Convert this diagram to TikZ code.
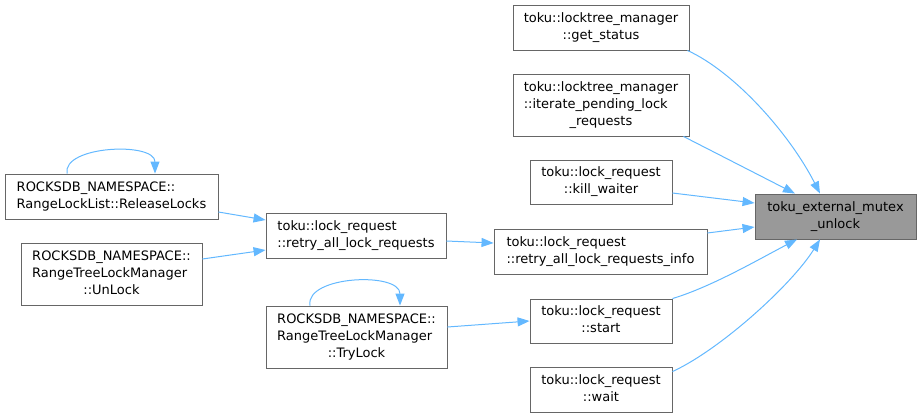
\documentclass[tikz,border=0pt]{standalone}
\usepackage{fontspec}
\setmainfont{DejaVu Sans}
\usetikzlibrary{arrows.meta}
\definecolor{edgec}{HTML}{63B8FF}
\definecolor{boxc}{HTML}{666666}
\definecolor{tgfill}{HTML}{999999}
\newcommand{\dlab}[2]{\begin{tabular}{@{}l@{}}#1\\\multicolumn{1}{@{}c@{}}{#2}\end{tabular}}
\tikzset{
  fn/.style={draw=boxc, fill=white, line width=0.9pt, inner sep=0pt, anchor=center},
  tgt/.style={fn, fill=tgfill},
  call/.style={draw=edgec, line width=1pt, -{Triangle[length=12pt,width=9pt]}},
}
\begin{document}
\begin{tikzpicture}[x=1pt,y=-1pt,font=\fontsize{13}{16.7}\selectfont]
\useasboundingbox (0,0) rectangle (921,418);
\node[fn, minimum width=176pt, minimum height=45pt] (gs) at (601,27.5) {\dlab{toku::locktree\_manager}{::get\_status}};
\node[fn, minimum width=176pt, minimum height=62pt] (it) at (601,105) {\dlab{toku::locktree\_manager\\::iterate\_pending\_lock}{\_requests}};
\node[fn, minimum width=142pt, minimum height=44pt] (kw) at (601,182) {\dlab{toku::lock\_request}{::kill\_waiter}};
\node[tgt, minimum width=161pt, minimum height=45pt] (tg) at (835.5,216.5) {\dlab{toku\_external\_mutex}{\_unlock}};
\node[fn, minimum width=213pt, minimum height=45pt] (ri) at (600.5,251.5) {\dlab{toku::lock\_request}{::retry\_all\_lock\_requests\_info}};
\node[fn, minimum width=142pt, minimum height=44pt] (st) at (601,321) {\dlab{toku::lock\_request}{::start}};
\node[fn, minimum width=142pt, minimum height=45pt] (wt) at (601,390) {\dlab{toku::lock\_request}{::wait}};
\node[fn, minimum width=180pt, minimum height=45pt] (ra) at (356,235.5) {\dlab{toku::lock\_request}{::retry\_all\_lock\_requests}};
\node[fn, minimum width=213pt, minimum height=45pt] (rl) at (111.5,196.5) {\dlab{ROCKSDB\_NAMESPACE::}{RangeLockList::ReleaseLocks}};
\node[fn, minimum width=181pt, minimum height=62pt] (ul) at (111.5,274) {\dlab{ROCKSDB\_NAMESPACE::\\RangeTreeLockManager}{::UnLock}};
\node[fn, minimum width=181pt, minimum height=62pt] (tl) at (356.5,337) {\dlab{ROCKSDB\_NAMESPACE::\\RangeTreeLockManager}{::TryLock}};

\draw[call] ([xshift=-2pt]gs.south east) .. controls +(48,22) and +(-30,-59) .. ([xshift=-15.5pt]tg.north);
\draw[call] ([xshift=-6pt]it.south east) -- ([xshift=-40.5pt]tg.north);
\draw[call] ([yshift=-11pt]kw.east) -- ([yshift=13.5pt]tg.west);
\draw[call] ([yshift=18.5pt]ri.east) -- ([yshift=-10.5pt]tg.west);
\draw[call] (st.north east) .. controls +(40,-12) and +(-35,18) .. ([xshift=-38.5pt]tg.south);
\draw[call] ([yshift=-4.5pt]wt.north east) .. controls +(48,-22) and +(-28,45) .. ([xshift=-15.5pt]tg.south);
\draw[call] ([yshift=-5.5pt]ra.east) -- ([yshift=8.5pt]ri.west);
\draw[call] ([yshift=-15.5pt]rl.east) -- ([yshift=15.5pt]ra.west);
\draw[call] ([yshift=15pt]ul.east) -- ([yshift=-14.5pt]ra.west);
\draw[call] ([yshift=10pt]tl.east) -- (st.west);
\draw[call] ([xshift=-44.5pt]rl.north) .. controls +(-5,-28) and +(0,-32) .. ([xshift=43.5pt]rl.north);
\draw[call] ([xshift=-46.5pt]tl.north) .. controls +(-5,-30) and +(0,-34) .. ([xshift=43.5pt]tl.north);
\end{tikzpicture}
\end{document}
